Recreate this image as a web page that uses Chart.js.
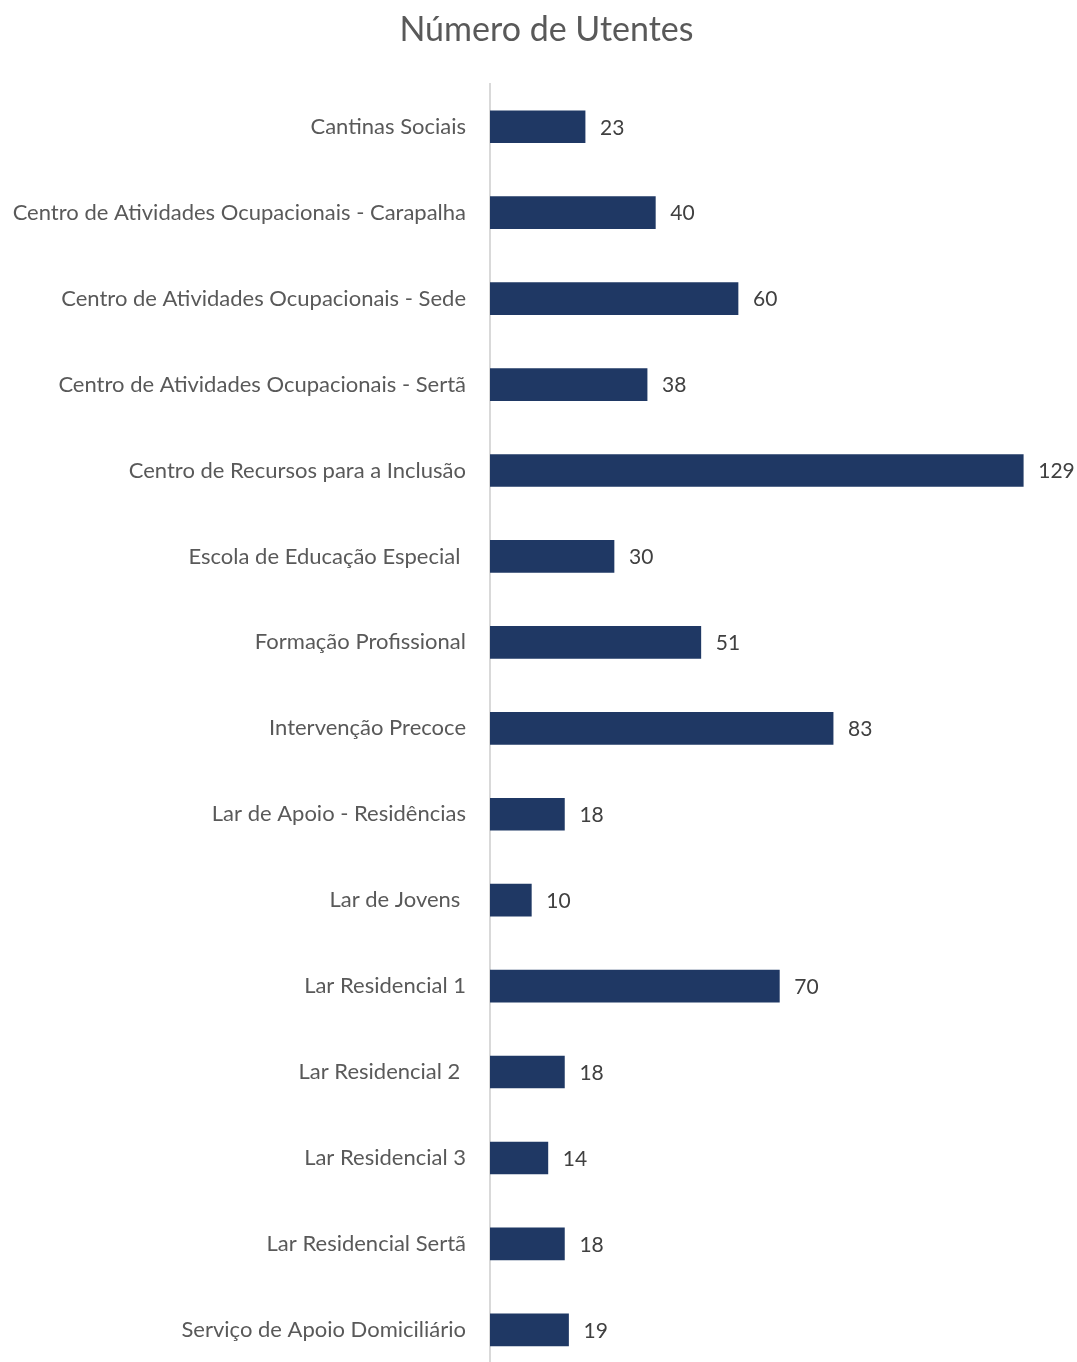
<!DOCTYPE html>
<html>
<head>
<meta charset="utf-8">
<script src="https://cdn.jsdelivr.net/npm/chart.js@4/dist/chart.umd.min.js"></script>
<style>
html,body{margin:0;padding:0;background:#fff;overflow:hidden;}
canvas{display:block;}
</style>
</head>
<body>
<canvas id="c" width="1077" height="1410"></canvas>
<script>
const chartTitle = "Número de Utentes";
const categories = [
  "Cantinas Sociais",
  "Centro de Atividades Ocupacionais - Carapalha",
  "Centro de Atividades Ocupacionais - Sede",
  "Centro de Atividades Ocupacionais - Sertã",
  "Centro de Recursos para a Inclusão",
  "Escola de Educação Especial ",
  "Formação Profissional",
  "Intervenção Precoce",
  "Lar de Apoio - Residências",
  "Lar de Jovens ",
  "Lar Residencial 1",
  "Lar Residencial 2 ",
  "Lar Residencial 3",
  "Lar Residencial Sertã",
  "Serviço de Apoio Domiciliário"
];
const values = [23, 40, 60, 38, 129, 30, 51, 83, 18, 10, 70, 18, 14, 18, 19];
const axisMax = 142;

const FONT = "Lato, 'Open Sans', sans-serif";

const valueLabels = {
  id: 'valueLabels',
  afterLayout(chart) {
    if (chart.titleBlock) { chart.titleBlock.left = 16; }
  },
  afterDatasetsDraw(chart) {
    const ctx = chart.ctx;
    const meta = chart.getDatasetMeta(0);
    ctx.save();
    ctx.font = "21px " + FONT;
    ctx.fillStyle = "#404040";
    ctx.textAlign = "left";
    ctx.textBaseline = "middle";
    meta.data.forEach((el, i) => {
      ctx.fillText(String(values[i]), el.x + 15, el.y + 1);
    });
    ctx.restore();
  }
};

new Chart(document.getElementById('c'), {
  type: 'bar',
  data: {
    labels: categories,
    datasets: [{
      data: values,
      backgroundColor: '#1F3864',
      borderWidth: 0,
      barThickness: 32
    }]
  },
  options: {
    indexAxis: 'y',
    responsive: false,
    animation: false,
    devicePixelRatio: 1,
    layout: { padding: { left: 0, right: 0, top: 0, bottom: 0 } },
    plugins: {
      legend: { display: false },
      tooltip: { enabled: false },
      title: {
        display: true,
        text: chartTitle,
        color: '#595959',
        font: { family: FONT, size: 34, weight: 'normal' },
        padding: { top: 10, bottom: 33 }
      }
    },
    scales: {
      x: {
        display: false,
        min: 0,
        max: axisMax
      },
      y: {
        afterFit(scale) { scale.width = 490; },
        grid: { display: false, drawTicks: false },
        border: { display: true, color: '#D9D9D9', width: 2 },
        ticks: {
          color: '#595959',
          padding: 24,
          font: { family: FONT, size: 22 }
        }
      }
    }
  },
  plugins: [valueLabels]
});
</script>
</body>
</html>
